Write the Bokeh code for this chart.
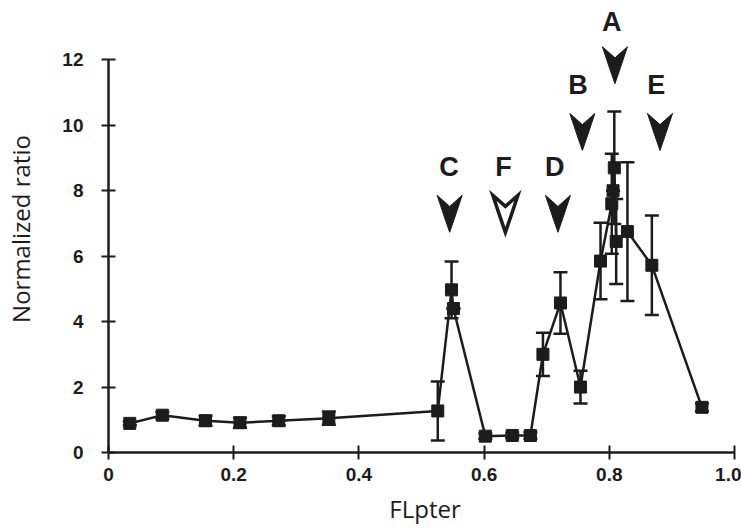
import numpy as np
from bokeh.plotting import figure
from bokeh.models import Whisker, TeeHead, ColumnDataSource, Range1d, FixedTicker
from bokeh.embed import file_html
from bokeh.resources import INLINE
from bokeh.core.properties import value

# ---- data ----
flpter = [0.034, 0.086, 0.155, 0.21, 0.272, 0.352, 0.526, 0.548, 0.551, 0.602, 0.645,
          0.674, 0.694, 0.722, 0.754, 0.786, 0.804, 0.806, 0.808, 0.811, 0.829, 0.868, 0.948]
ratio = [0.89, 1.14, 0.97, 0.91, 0.97, 1.05, 1.27, 4.97, 4.4, 0.5, 0.52,
         0.52, 3.0, 4.57, 2.0, 5.85, 7.6, 8.0, 8.7, 6.45, 6.75, 5.72, 1.38]
err = [0.06, 0.1, 0.15, 0.15, 0.14, 0.2, 0.9, 0.87, 0.0, 0.08, 0.08,
       0.1, 0.66, 0.94, 0.5, 1.17, 1.53, 0.0, 1.72, 1.3, 2.12, 1.52, 0.12]

arrow_labels = ["A", "B", "C", "D", "E", "F"]
arrow_x = [0.809, 0.757, 0.545, 0.718, 0.881, 0.634]
arrow_tip = [11.27, 9.23, 6.73, 6.73, 9.23, 6.73]
arrow_filled = [True, True, True, True, True, False]
label_x = [0.804, 0.750, 0.544, 0.713, 0.875, 0.631]
label_y = [13.15, 11.24, 8.72, 8.72, 11.24, 8.72]

x_ticks = [0, 0.2, 0.4, 0.6, 0.8, 1.0]
y_ticks = [0, 2, 4, 6, 8, 10, 12]

INK = "#1c1c1c"

p = figure(width=741, height=531, output_backend="svg", toolbar_location=None,
           x_range=Range1d(0, 1.0112), y_range=Range1d(0, 13.66),
           min_border_left=108, min_border_right=0, min_border_top=5, min_border_bottom=79)
p.outline_line_color = None
p.xgrid.visible = False
p.ygrid.visible = False
p.background_fill_color = "white"
p.border_fill_color = "white"

for ax in (p.xaxis, p.yaxis):
    ax.axis_line_width = 2.5
    ax.axis_line_color = INK
    ax.major_tick_line_color = INK
    ax.major_tick_line_width = 2
    ax.major_tick_in = 7
    ax.major_tick_out = 7
    ax.minor_tick_line_color = None
    ax.major_label_text_font = "Liberation Sans"
    ax.major_label_text_font_style = "bold"
    ax.major_label_text_font_size = "19px"
    ax.major_label_text_color = INK
    ax.axis_label_text_font = "Open Sans"
    ax.axis_label_text_font_style = "normal"
    ax.axis_label_text_font_size = "24px"
    ax.axis_label_text_color = INK

p.xaxis.ticker = FixedTicker(ticks=x_ticks)
p.xaxis.bounds = (0, 1)
p.xaxis.major_label_overrides = {0: "0", 1: "1.0"}
p.xaxis.major_label_standoff = 8
p.xaxis.axis_label = "FLpter"
p.xaxis.axis_label_standoff = 8
p.yaxis.ticker = FixedTicker(ticks=y_ticks)
p.yaxis.bounds = (0, 12)
p.yaxis.major_label_standoff = 18
p.yaxis.axis_label = "Normalized ratio"
p.yaxis.axis_label_standoff = 22

# data
ys = np.array(ratio)
es = np.array(err)
src = ColumnDataSource(dict(x=flpter, y=ratio, up=list(ys + es), lo=list(ys - es)))
p.add_layout(Whisker(source=src, base="x", upper="up", lower="lo", dimension="height",
                     line_width=2.5, line_color=INK,
                     upper_head=TeeHead(size=14, line_width=2.5, line_color=INK),
                     lower_head=TeeHead(size=14, line_width=2.5, line_color=INK)))
p.line("x", "y", source=src, line_width=2.5, line_color=INK)
p.scatter("x", "y", source=src, marker="square", size=12, fill_color=INK, line_color=INK)

# arrows
hw = 0.02      # half width
notch = 0.34
height = 1.13
midx, midy = 0.009, 0.5
fx, fy, ox, oy = [], [], [], []
for ax_, tip, filled in zip(arrow_x, arrow_tip, arrow_filled):
    top = tip + height
    xs = [ax_ - hw, ax_, ax_ + hw, ax_ + midx, ax_, ax_ - midx]
    ys_ = [top, top - notch, top, tip + midy, tip, tip + midy]
    if filled:
        fx.append(xs); fy.append(ys_)
    else:
        ox.append(xs); oy.append(ys_)
p.patches(fx, fy, fill_color=INK, line_color=INK, line_width=1)
p.patches(ox, oy, fill_color="white", line_color=INK, line_width=3.5, line_join="miter")

p.text(x=label_x, y=label_y, text=arrow_labels, text_align="center", text_baseline="middle",
       text_font=value("Liberation Sans"), text_font_style="bold", text_font_size="27px",
       text_color=INK)

open("out.html", "w").write(file_html(p, INLINE))
